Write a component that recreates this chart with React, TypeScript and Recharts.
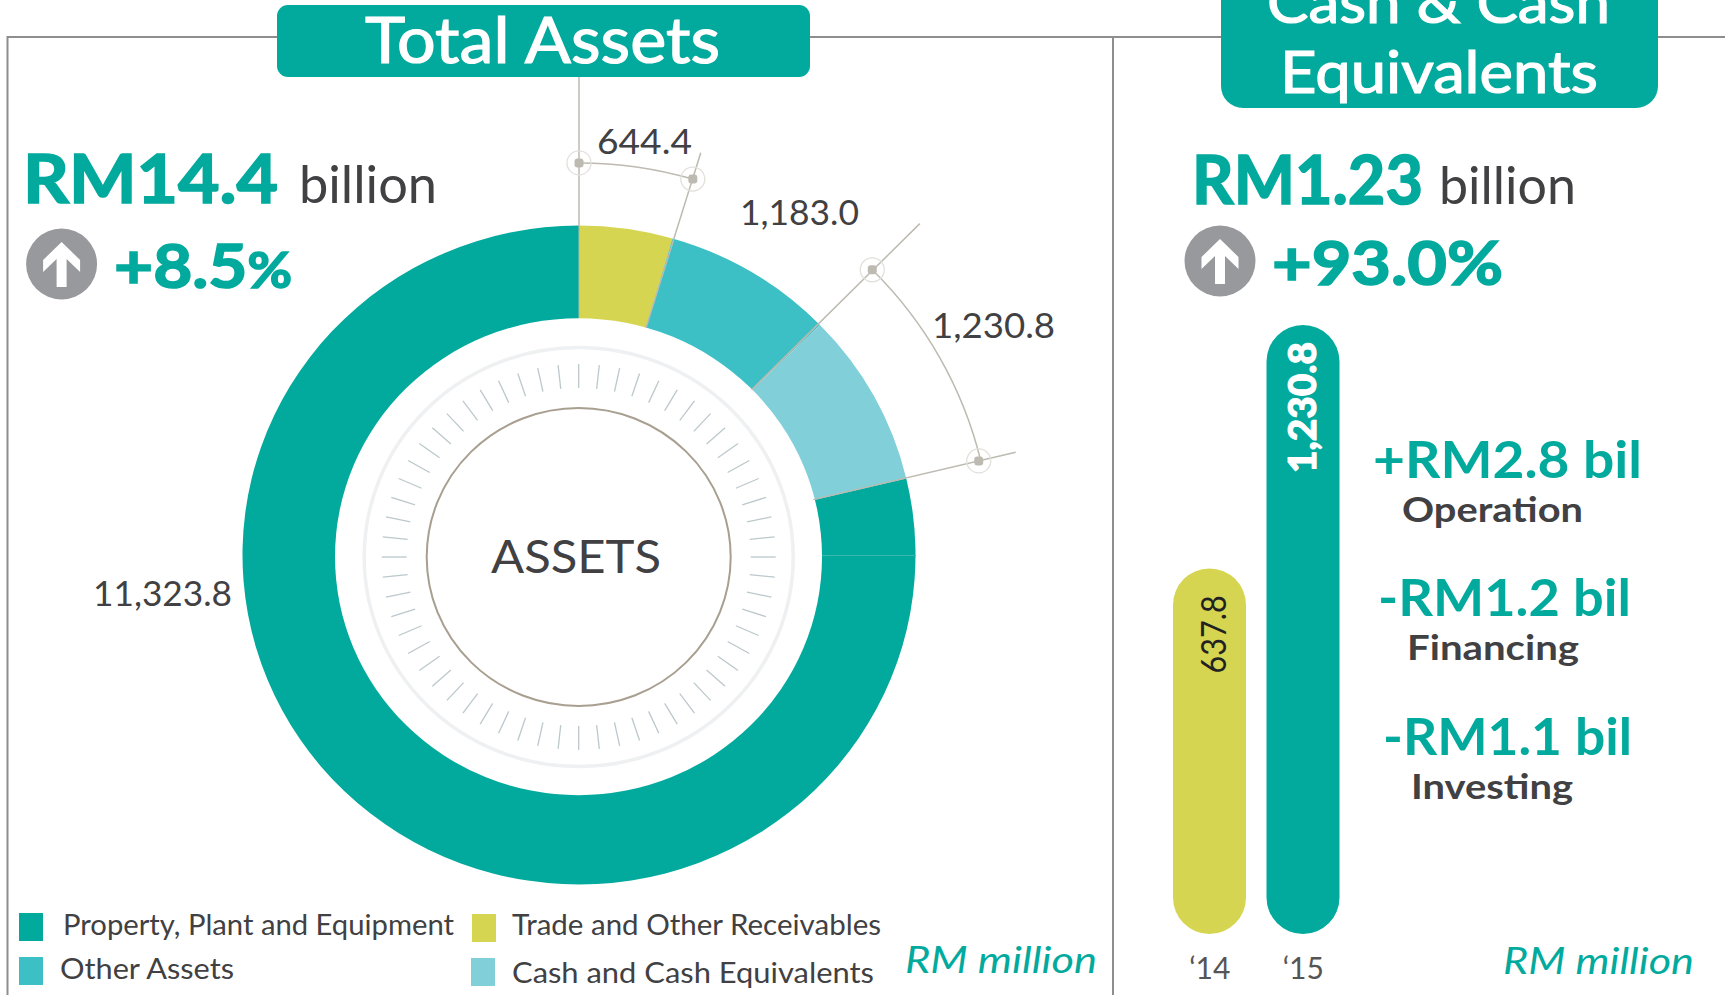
import React from 'react';
import { PieChart, Pie, Cell, BarChart, Bar, XAxis, YAxis, LabelList } from 'recharts';

const assetNames = ['Trade and Other Receivables', 'Other Assets', 'Cash and Cash Equivalents', 'Property, Plant and Equipment'];
const assetValues = [644.4, 1183.0, 1230.8, 11323.8];
const assetColors = ['#d6d551', '#3cc0c5', '#81cfd9', '#02aa9d'];

const cashYears = ['‘14', '‘15'];
const cashValues = [637.8, 1230.8];
const cashColors = ['#d6d551', '#02aa9d'];
// the pills are not drawn from zero in the original
const cashBase = -253;

const flowAmounts = ['+RM2.8 bil', '-RM1.2 bil', '-RM1.1 bil'];
const flowNames = ['Operation', 'Financing', 'Investing'];

const TEAL = '#02aa9d';
const DARK = '#414042';
const GUIDE = '#bdbab1';
const FONT = 'Lato, sans-serif';

const CX = 579;
const CY = 554.5;
const SQUASH = 0.979;

const pieData = assetNames.map((name, i) => ({ name, value: assetValues[i] }));
const barData = cashYears.map((year, i) => ({ year, value: cashValues[i], range: [cashBase, cashValues[i]] }));

const total = assetValues.reduce((a, b) => a + b, 0);
const boundaries = assetValues.slice(0, 3).map((_, i) =>
  (assetValues.slice(0, i + 1).reduce((a, b) => a + b, 0) / total) * 360
);
// the drawn guides sit a touch off the slice edges
const guideAngles = [boundaries[0] + 0.4, boundaries[1] - 0.5, boundaries[2]];

const polar = (angle: number, r: number) => {
  const a = (angle * Math.PI) / 180;
  return { x: CX + r * Math.sin(a), y: CY - SQUASH * r * Math.cos(a) };
};

const fmt = (v: number) => v.toLocaleString('en-US', { minimumFractionDigits: 1, maximumFractionDigits: 1 });

const T = ({ x, y, x2, size, weight = 400, fill = DARK, italic, thick = 0, children }: any) => (
  <text
    x={x}
    y={y}
    fontFamily={FONT}
    fontSize={size}
    fontWeight={weight}
    fontStyle={italic ? 'italic' : 'normal'}
    fill={fill}
    stroke={thick ? fill : 'none'}
    strokeWidth={thick}
    textLength={x2 - x}
    lengthAdjust="spacingAndGlyphs"
  >
    {children}
  </text>
);

const UpArrow = ({ cx, cy }: { cx: number; cy: number }) => (
  <g transform={`translate(${cx},${cy})`}>
    <circle r={35.5} fill="#98999d" />
    <polygon
      points="0,-22 18.5,-4 18.5,8 5,-5 5,23 -5,23 -5,-5 -18.5,8 -18.5,-4"
      fill="#fff"
    />
  </g>
);

const Dot = ({ x, y }: { x: number; y: number }) => (
  <g>
    <circle cx={x} cy={y} r={12} fill="none" stroke="#e2e0db" strokeWidth={1.3} />
    <rect x={x - 4.5} y={y - 4.5} width={9} height={9} rx={3} fill={GUIDE} />
  </g>
);

const arc = (from: number, to: number, r: number) => {
  const a = polar(from, r);
  const b = polar(to, r);
  return `M${a.x},${a.y} A${r},${r * SQUASH} 0 0 1 ${b.x},${b.y}`;
};

const pillLabel = (props: any) => {
  const { x, y, width, index, value } = props;
  const big = index === 1;
  const bx = x + width / 2 + (big ? 13 : 16.5);
  const by = y + (big ? 17 : 27);
  return (
    <text
      x={bx}
      y={by}
      transform={`rotate(-90 ${bx} ${by})`}
      textAnchor="end"
      fontFamily={FONT}
      fontSize={big ? 37 : 34}
      fontWeight={big ? 900 : 400}
      fill={big ? '#fff' : '#222'}
      stroke={big ? '#fff' : 'none'}
      strokeWidth={big ? 1 : 0}
      textLength={big ? 131 : 78}
      lengthAdjust="spacingAndGlyphs"
    >
      {fmt(value)}
    </text>
  );
};

const legendSpots = [
  { sx: 472, sy: 914, tx: 512, tx2: 881, ty: 935 },
  { sx: 19, sy: 957, tx: 60, tx2: 234, ty: 979 },
  { sx: 471, sy: 958, tx: 512, tx2: 874, ty: 983 },
  { sx: 19, sy: 913, tx: 63, tx2: 454, ty: 935 },
];

const flowSpots = [
  { x: 1373, x2: 1642, y: 478, nx: 1402, nx2: 1583, ny: 522 },
  { x: 1378, x2: 1631, y: 616, nx: 1407, nx2: 1579, ny: 660 },
  { x: 1383, x2: 1632, y: 755, nx: 1411, nx2: 1573, ny: 799 },
];

const tickAngles = Array.from({ length: 60 }, (_, i) => i * 6);

export default function App() {
  return (
    <div style={{ position: 'absolute', left: 0, top: 0, width: 1725, height: 995, overflow: 'hidden', background: '#fff' }}>
      <div style={{ position: 'absolute', left: CX - 400, top: CY - 400, transform: `scaleY(${SQUASH})` }}>
        <PieChart width={800} height={800} margin={{ top: 0, right: 0, bottom: 0, left: 0 }}>
          <Pie
            data={pieData}
            dataKey="value"
            cx={400}
            cy={400}
            innerRadius={225}
            outerRadius={336.5}
            startAngle={90}
            endAngle={-270}
            stroke="none"
            isAnimationActive={false}
          >
            {pieData.map((d, i) => (
              <Cell key={d.name} fill={assetColors[i]} />
            ))}
          </Pie>
        </PieChart>
      </div>

      <svg width={1725} height={995} style={{ position: 'absolute', left: 0, top: 0 }}>
        {/* frame */}
        <path d="M1725,37 H7.5 V995" fill="none" stroke="#8e8e8e" strokeWidth={2} />
        <line x1={1113} y1={37} x2={1113} y2={995} stroke="#8e8e8e" strokeWidth={2} />

        {/* inner dial */}
        <ellipse cx={578.5} cy={556.7} rx={243.5} ry={238.5} fill="#fff" />
        <ellipse cx={578.7} cy={557} rx={214.5} ry={209.5} fill="none" stroke="#eef0f2" strokeWidth={3.5} />
        {tickAngles.map((t) => {
          const a = (t * Math.PI) / 180;
          return (
            <line
              key={t}
              x1={578.7 + 172 * Math.sin(a)}
              y1={557 - 169 * Math.cos(a)}
              x2={578.7 + 197 * Math.sin(a)}
              y2={557 - 193 * Math.cos(a)}
              stroke="#bcc8cc"
              strokeWidth={1.3}
            />
          );
        })}
        <ellipse cx={578.7} cy={557} rx={152} ry={149} fill="#fff" stroke="#a89f90" strokeWidth={2} />
        <T x={491} x2={661} y={573} size={46}>ASSETS</T>

        {/* guides */}
        <line x1={CX} y1={77} x2={CX} y2={226} stroke={GUIDE} strokeWidth={1.5} />
        <line x1={CX} y1={226} x2={CX} y2={318} stroke="#b4b8a8" strokeWidth={1} />
        <line x1={822} y1={CY + 1} x2={916} y2={CY + 1} stroke="#3ab8ae" strokeWidth={1} />
        {guideAngles.map((b, i) => {
          const inner = polar(boundaries[i], 241);
          const outer = polar(b, [428, 480, 449][i]);
          return <line key={b} x1={inner.x} y1={inner.y} x2={outer.x} y2={outer.y} stroke={GUIDE} strokeWidth={1.5} />;
        })}
        <path d={arc(0, guideAngles[0], 400)} fill="none" stroke={GUIDE} strokeWidth={1.5} />
        <path d={arc(guideAngles[1], guideAngles[2], 413)} fill="none" stroke={GUIDE} strokeWidth={1.5} />
        <Dot {...polar(0, 400)} />
        <Dot {...polar(guideAngles[0], 400)} />
        <Dot {...polar(guideAngles[1], 413)} />
        <Dot {...polar(guideAngles[2], 411)} />
        <T x={597} x2={692} y={154} size={34}>{fmt(assetValues[0])}</T>
        <T x={740} x2={859} y={225} size={34}>{fmt(assetValues[1])}</T>
        <T x={932} x2={1055} y={338} size={34}>{fmt(assetValues[2])}</T>
        <T x={93} x2={232} y={606} size={34}>{fmt(assetValues[3])}</T>

        {/* badges */}
        <rect x={277} y={5} width={533} height={72} rx={11} fill={TEAL} />
        <T x={365} x2={720} y={63} size={64} thick={1.2} fill="#fff">Total Assets</T>
        <rect x={1221} y={-40} width={437} height={148} rx={22} fill={TEAL} />
        <T x={1267} x2={1610} y={23} size={58} thick={1.2} fill="#fff">Cash &amp; Cash</T>
        <T x={1280} x2={1598} y={93} size={58} thick={1.2} fill="#fff">Equivalents</T>

        {/* headlines */}
        <T x={23} x2={278} y={203} size={66} weight={700} thick={1.6} fill={TEAL}>RM14.4</T>
        <T x={299} x2={437} y={203} size={52}>billion</T>
        <UpArrow cx={61.6} cy={264} />
        <T x={114} x2={292} y={287.5} size={62} weight={700} thick={1.6} fill={TEAL}>
          +8.5<tspan fontSize={50}>%</tspan>
        </T>

        <T x={1192} x2={1423} y={204} size={66} weight={700} thick={1.6} fill={TEAL}>RM1.23</T>
        <T x={1439} x2={1576} y={204} size={52}>billion</T>
        <UpArrow cx={1220} cy={261} />
        <T x={1272} x2={1503} y={285} size={62} weight={700} thick={1.6} fill={TEAL}>+93.0%</T>

        {/* legend */}
        {assetNames.map((name, i) => {
          const s = legendSpots[i];
          return (
            <g key={name}>
              <rect x={s.sx} y={s.sy} width={24} height={28} fill={assetColors[i]} />
              <T x={s.tx} x2={s.tx2} y={s.ty} size={28}>{name}</T>
            </g>
          );
        })}
        <T x={905} x2={1097} y={973} size={36} italic fill={TEAL}>RM million</T>
        <T x={1503} x2={1694} y={974} size={36} italic fill={TEAL}>RM million</T>

        {/* cash flows */}
        {flowAmounts.map((amount, i) => {
          const s = flowSpots[i];
          return (
            <g key={amount}>
              <T x={s.x} x2={s.x2} y={s.y} size={52} weight={700} fill={TEAL}>{amount}</T>
              <T x={s.nx} x2={s.nx2} y={s.ny} size={35} weight={700}>{flowNames[i]}</T>
            </g>
          );
        })}
      </svg>

      <div style={{ position: 'absolute', left: 1162.5, top: 325 }}>
        <BarChart
          width={187}
          height={669}
          data={barData}
          margin={{ top: 0, right: 0, bottom: 0, left: 0 }}
          barSize={73}
        >
          <XAxis
            dataKey="year"
            height={60}
            axisLine={false}
            tickLine={false}
            interval={0}
            tick={{ fontFamily: FONT, fontSize: 30, fill: '#555' }}
            tickMargin={18}
          />
          <YAxis hide domain={[cashBase, 1230.8]} />
          <Bar dataKey="range" radius={36.5} isAnimationActive={false}>
            {barData.map((d, i) => (
              <Cell key={d.year} fill={cashColors[i]} />
            ))}
            <LabelList dataKey="value" content={pillLabel} />
          </Bar>
        </BarChart>
      </div>
    </div>
  );
}
